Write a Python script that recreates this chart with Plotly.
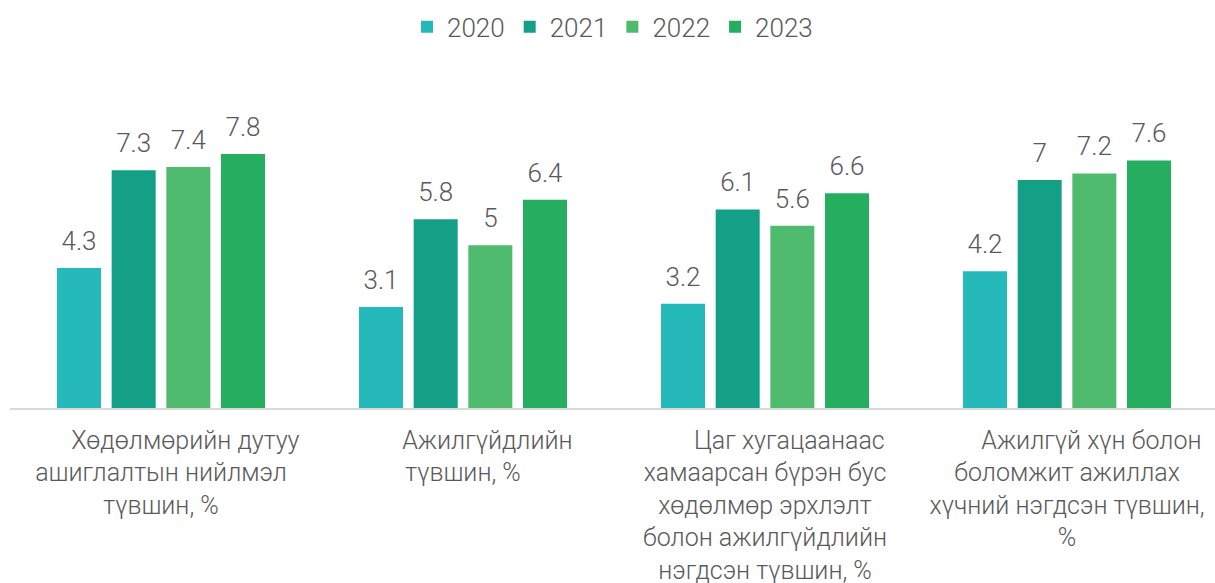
import plotly.graph_objects as go

categories = [
    "\u00a0" * 8 + "Хөдөлмөрийн дутуу<br>ашиглалтын нийлмэл<br>түвшин, %",
    "\u00a0" * 8 + "Ажилгүйдлийн<br>түвшин, %",
    "\u00a0" * 8 + "Цаг хугацаанаас<br>хамаарсан бүрэн бус<br>хөдөлмөр эрхлэлт<br>болон ажилгүйдлийн<br>нэгдсэн түвшин, %",
    "\u00a0" * 8 + "Ажилгүй хүн болон<br>боломжит ажиллах<br>хүчний нэгдсэн түвшин,<br>%",
]
years = ["2020", "2021", "2022", "2023"]
values = {
    "2020": [4.3, 3.1, 3.2, 4.2],
    "2021": [7.3, 5.8, 6.1, 7.0],
    "2022": [7.4, 5.0, 5.6, 7.2],
    "2023": [7.8, 6.4, 6.6, 7.6],
}
colors = {"2020": "#25B9B9", "2021": "#13A087", "2022": "#4FBB6E", "2023": "#25AE60"}

FONT = "Roboto"
TXT = "#595959"

fig = go.Figure()
for y in years:
    fig.add_trace(go.Bar(
        name=y, x=categories, y=values[y], marker_color=colors[y],
        offsetgroup=y, alignmentgroup="a",
        marker_line_width=0,
    ))
for y in years:
    fig.add_trace(go.Scatter(
        x=categories, y=values[y], mode="markers+text",
        text=[f"{v:g}" for v in values[y]], textposition="top center",
        textfont=dict(family=FONT, size=26, color=TXT, weight=300),
        marker=dict(size=17, opacity=0),
        offsetgroup=y, alignmentgroup="a",
        showlegend=False, hoverinfo="skip", cliponaxis=False,
    ))

fig.update_layout(
    width=1215, height=583,
    margin=dict(l=10, r=0, t=115, b=175, autoexpand=False),
    paper_bgcolor="white", plot_bgcolor="white",
    barmode="group", bargap=0.276, bargroupgap=0.195,
    scattermode="group", scattergap=0.276,
    font=dict(family=FONT, color=TXT, weight=300),
    legend=dict(
        orientation="h", x=0.5, xanchor="center", y=0.954, yanchor="middle",
        yref="container", font=dict(family=FONT, size=26, color=TXT, weight=300),
        itemwidth=30, traceorder="normal",
    ),
    showlegend=True,
)
fig.update_xaxes(
    range=[-0.5, 3.49], showline=True, linecolor="#D9D9D9", linewidth=1.5,
    showgrid=False, ticks="", tickfont=dict(family=FONT, size=25, color=TXT, weight=300),
    ticklabelstandoff=9, tickangle=0, automargin=False,
)
fig.update_yaxes(range=[0, 9], visible=False, showgrid=False, zeroline=False, automargin=False)

fig.write_html("out.html")
